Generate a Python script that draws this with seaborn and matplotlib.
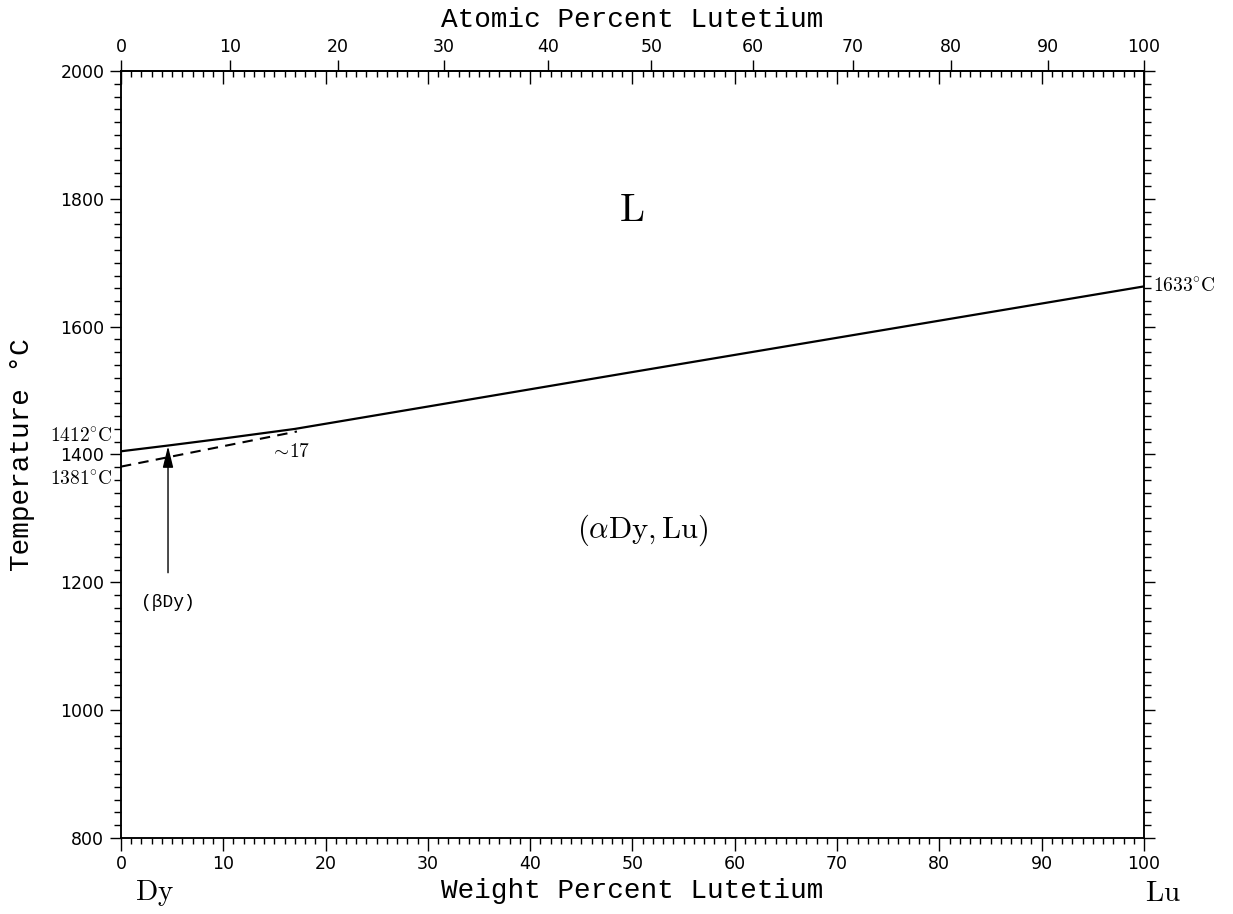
import numpy as np
import pandas as pd
import matplotlib
matplotlib.use("Agg")
import matplotlib.pyplot as plt
from matplotlib.ticker import MultipleLocator, FixedLocator
import seaborn as sns

# liquidus/solidus (drawn as one line) and the beta/alpha Dy transus
liq_wt = [0, 4.6, 10, 17, 30, 50, 75, 100]
liq_T = [1405, 1414, 1425, 1440, 1475, 1529, 1596, 1663]
trans_wt = [0, 17.2]
trans_T = [1381, 1436]

arrow_wt = 4.6
arrow_T = [1215, 1413]

at_ticks = [0, 10, 20, 30, 40, 50, 60, 70, 80, 90, 100]
M_DY, M_LU = 162.50, 174.967


def at_to_wt(a):
    a = np.asarray(a, dtype=float) / 100.0
    return 100.0 * a * M_LU / (a * M_LU + (1 - a) * M_DY)


sns.set_style("ticks")
plt.rcParams['font.family'] = ['DejaVu Sans']
plt.rcParams['mathtext.fontset'] = 'cm'
plt.rcParams['axes.linewidth'] = 1.1
for k in ['text.color', 'axes.labelcolor', 'xtick.color', 'ytick.color', 'axes.edgecolor']:
    plt.rcParams[k] = 'black'

fig = plt.figure(figsize=(12.33, 9.14), dpi=100)
ax = fig.add_axes([0.0981, 0.0832, 0.8297, 0.8391])

df_liq = pd.DataFrame({"wt": liq_wt, "T": liq_T})
df_tr = pd.DataFrame({"wt": trans_wt, "T": trans_T})
sns.lineplot(data=df_liq, x="wt", y="T", color="black", lw=1.6, ax=ax, sort=False)
sns.lineplot(data=df_tr, x="wt", y="T", color="black", lw=1.5, ax=ax, sort=False,
             linestyle=(0, (5, 3.5)))

ax.annotate("", xy=(arrow_wt, arrow_T[1]), xytext=(arrow_wt, arrow_T[0]),
            arrowprops=dict(arrowstyle="-|>,head_length=0.65,head_width=0.16",
                            color="black", lw=1.0, mutation_scale=20,
                            shrinkA=0, shrinkB=0))

ax.set_xlim(0, 100)
ax.set_ylim(800, 2000)
ax.xaxis.set_major_locator(MultipleLocator(10))
ax.xaxis.set_minor_locator(MultipleLocator(1))
ax.yaxis.set_major_locator(MultipleLocator(200))
ax.yaxis.set_minor_locator(MultipleLocator(20))
ax.tick_params(axis="x", which="major", direction="out", length=9, width=1, labelsize=12.5, pad=3)
ax.tick_params(axis="x", which="minor", direction="out", length=4, width=1)
ax.tick_params(axis="y", which="major", direction="out", length=8, width=1, labelsize=12.5,
               pad=4, left=True, right=True)
ax.tick_params(axis="y", which="minor", direction="out", length=5, width=1, left=True, right=True)

# weight-percent ticks along the top, pointing inward
sec = ax.secondary_xaxis("top")
sec.xaxis.set_major_locator(MultipleLocator(10))
sec.xaxis.set_minor_locator(MultipleLocator(1))
sec.tick_params(which="major", direction="in", length=9, width=1, labeltop=False)
sec.tick_params(which="minor", direction="in", length=4, width=1, labeltop=False)

# atomic-percent scale on top
ax_top = ax.twiny()
ax_top.set_xlim(0, 100)
ax_top.xaxis.set_major_locator(FixedLocator(at_to_wt(at_ticks)))
ax_top.set_xticklabels([str(a) for a in at_ticks])
ax_top.xaxis.set_minor_locator(FixedLocator([]))
ax_top.tick_params(axis="x", direction="out", length=8, width=1, labelsize=12.5, pad=3)

mono = "Liberation Mono"
ax.set_xlabel("Weight Percent Lutetium", fontsize=20, family=mono)
ax.xaxis.set_label_coords(0.5, -0.052)
ax.set_ylabel("Temperature °C", fontsize=20, family=mono)
ax.yaxis.set_label_coords(-0.084, 0.5)
ax_top.set_xlabel("Atomic Percent Lutetium", fontsize=20, family=mono)
ax_top.xaxis.set_label_coords(0.5, 1.057)

ax.text(49.95, 1782, r"$\mathrm{L}$", fontsize=29, ha="center", va="center")
ax.text(51.0, 1282, r"$\mathrm{(\alpha Dy,Lu)}$", fontsize=22, ha="center", va="center")
ax.text(-0.8, 1429, r"$\mathrm{1412^{\circ}C}$", fontsize=14, ha="right", va="center")
ax.text(-0.8, 1362, r"$\mathrm{1381^{\circ}C}$", fontsize=14, ha="right", va="center")
ax.text(16.5, 1405, r"$\mathrm{\sim\!17}$", fontsize=14, ha="center", va="center")
ax.text(4.6, 1168, "(βDy)", fontsize=13, ha="center", va="center", family=mono)
ax.text(100.9, 1664, r"$\mathrm{1633^{\circ}C}$", fontsize=14, ha="left", va="center",
        clip_on=False)
ax.text(3.3, 714, r"$\mathrm{Dy}$", fontsize=21, ha="center", va="center", clip_on=False)
ax.text(101.9, 714, r"$\mathrm{Lu}$", fontsize=21, ha="center", va="center", clip_on=False)

fig.savefig("out.png", dpi=100)
